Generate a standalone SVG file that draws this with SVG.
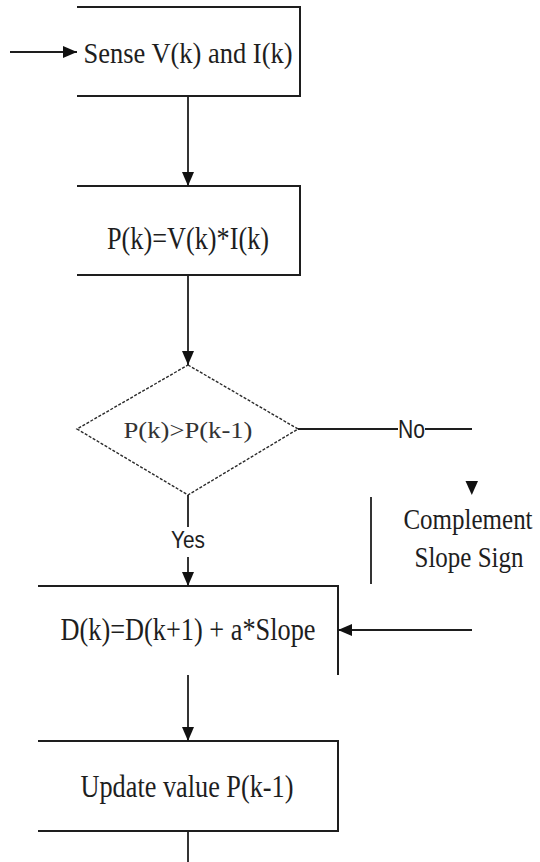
<svg xmlns="http://www.w3.org/2000/svg" width="540" height="862" viewBox="0 0 540 862">
<style>
.edge{fill:none;stroke:#1e1e1e;stroke-width:2}
.conn{fill:none;stroke:#1e1e1e;stroke-width:1.8}
.dia{fill:none;stroke:#2a2a2a;stroke-width:1.4;stroke-dasharray:3 1.6}
.t{font-family:"Liberation Serif","Times New Roman",serif;fill:#1e1e1e;text-anchor:middle}
.s{font-family:"Liberation Sans",Arial,sans-serif;fill:#1e1e1e;text-anchor:middle}
</style>
<defs>
<marker id="ah" markerUnits="userSpaceOnUse" markerWidth="15" markerHeight="13" refX="14" refY="6.5" orient="auto" viewBox="0 0 15 13">
<path d="M0,0.5 L14,6.5 L0,12.5 z" fill="#111"/>
</marker>
</defs>
<rect width="540" height="862" fill="#fff"/>
<g id="sense">
<path class="edge" d="M77,7 H300 V96 H77"/>
<text class="t" x="188" y="63" font-size="30" textLength="209" lengthAdjust="spacingAndGlyphs">Sense V(k) and I(k)</text>
</g>
<g id="power">
<path class="edge" d="M77,186 H300 V275 H77"/>
<text class="t" x="188" y="249" font-size="31" textLength="162" lengthAdjust="spacingAndGlyphs">P(k)=V(k)*I(k)</text>
</g>
<g id="decision">
<polygon class="dia" points="188,365 298,429 188,495 77,429"/>
<text class="t" x="188" y="438" font-size="24" fill="#333" style="fill:#333" textLength="129" lengthAdjust="spacingAndGlyphs">P(k)&gt;P(k-1)</text>
</g>
<g id="complement">
<text class="t" transform="translate(468,529) scale(1,1.2)" x="0" y="0" font-size="25">Complement</text>
<text class="t" transform="translate(469,567) scale(1,1.2)" x="0" y="0" font-size="25">Slope Sign</text>
</g>
<g id="duty">
<path class="edge" d="M38,586 H338 V675"/>
<text class="t" x="188" y="640" font-size="31" textLength="255" lengthAdjust="spacingAndGlyphs">D(k)=D(k+1) + a*Slope</text>
</g>
<g id="update">
<path class="edge" d="M38,741 H338 V831 H38"/>
<text class="t" x="187" y="797" font-size="31" textLength="213" lengthAdjust="spacingAndGlyphs">Update value P(k-1)</text>
</g>
<g id="connectors">
<line class="conn" x1="10" y1="52" x2="77" y2="52" marker-end="url(#ah)"/>
<line class="conn" x1="188" y1="96" x2="188" y2="186" marker-end="url(#ah)"/>
<line class="conn" x1="188" y1="275" x2="188" y2="365" marker-end="url(#ah)"/>
<line class="conn" x1="188" y1="495" x2="188" y2="527"/>
<text class="s" x="188" y="548" font-size="24" textLength="34" lengthAdjust="spacingAndGlyphs">Yes</text>
<line class="conn" x1="188" y1="557" x2="188" y2="586" marker-end="url(#ah)"/>
<line class="conn" x1="298" y1="429" x2="398" y2="429"/>
<text class="s" x="411.5" y="438" font-size="26" textLength="27" lengthAdjust="spacingAndGlyphs">No</text>
<line class="conn" x1="425" y1="429" x2="472" y2="429"/>
<polygon points="465.5,481 478,481 471.8,495" fill="#111"/>
<line class="conn" x1="371" y1="497" x2="371" y2="584"/>
<line class="conn" x1="472" y1="630" x2="338" y2="630" marker-end="url(#ah)"/>
<line class="conn" x1="188" y1="675" x2="188" y2="741" marker-end="url(#ah)"/>
<line class="conn" x1="188" y1="831" x2="188" y2="862"/>
</g>
</svg>
